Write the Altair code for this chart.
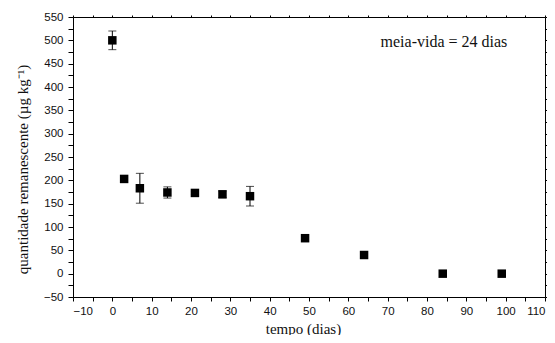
import altair as alt
import pandas as pd

# data
tempo = [0, 3, 7, 14, 21, 28, 35, 49, 64, 84, 99]
quantidade = [500, 203, 183, 174, 173, 170, 166, 76, 40, 0, 0]
erro = [20, 0, 32, 12, 4, 7, 21, 0, 0, 0, 0]

x_ticks = list(range(-10, 115, 5))
y_ticks = list(range(-50, 575, 25))

df = pd.DataFrame({"tempo": tempo, "q": quantidade, "err": erro})
df["lo"] = df["q"] - df["err"]
df["hi"] = df["q"] + df["err"]
df_err = df[df["err"] > 0]

ann = pd.DataFrame({"tempo": [84.3], "q": [496], "label": ["meia-vida = 24 dias"]})

xscale = alt.Scale(domain=[-10, 110], nice=False, zero=False)
yscale = alt.Scale(domain=[-50, 550], nice=False, zero=False)

label_font = "Liberation Sans"
title_font = "Liberation Serif"

x_axis = alt.Axis(
    values=x_ticks,
    labelExpr="datum.value % 10 == 0 ? datum.label : ''",
    title="tempo (dias)",
    grid=False,
    tickSize=4,
    labelFont=label_font,
    labelFontSize=11.5,
    labelColor="#111",
    labelPadding=4,
    titleFont=title_font,
    titleFontSize=15,
    titleFontWeight="normal",
    titleColor="#111",
    titleX=230,
    titleY=31,
    titleBaseline="middle",
    domainColor="black",
    tickColor="black",
)
y_axis = alt.Axis(
    values=y_ticks,
    labelExpr="datum.value % 50 == 0 ? datum.label : ''",
    title="quantidade remanescente (µg kg⁻¹)",
    grid=False,
    tickSize=5,
    labelFont=label_font,
    labelFontSize=11.5,
    labelColor="#111",
    labelPadding=5,
    titleFont=title_font,
    titleFontSize=15,
    titleFontWeight="normal",
    titleColor="#111",
    titleX=-51,
    titleY=152,
    titleBaseline="middle",
    titleAlign="center",
    domainColor="black",
    tickColor="black",
)
x_axis_top = alt.Axis(
    orient="top", values=x_ticks, labels=False, title=None, grid=False,
    tickSize=2, domainColor="black", tickColor="black",
)
y_axis_right = alt.Axis(
    orient="right", values=y_ticks, labels=False, title=None, grid=False,
    tickSize=2, domainColor="black", tickColor="black",
)

base_err = alt.Chart(df_err)

rules = base_err.mark_rule(color="black", strokeWidth=1).encode(
    x=alt.X("tempo:Q", scale=xscale, axis=x_axis),
    y=alt.Y("lo:Q", scale=yscale, axis=y_axis),
    y2="hi:Q",
)
caps_lo = base_err.mark_tick(color="black", orient="horizontal", size=8, thickness=1).encode(
    x=alt.X("tempo:Q", scale=xscale, axis=x_axis_top),
    y=alt.Y("lo:Q", scale=yscale, axis=y_axis_right),
)
caps_hi = base_err.mark_tick(color="black", orient="horizontal", size=8, thickness=1).encode(
    x=alt.X("tempo:Q", scale=xscale, axis=None),
    y=alt.Y("hi:Q", scale=yscale, axis=None),
)
points = alt.Chart(df).mark_square(size=72, color="black", opacity=1, filled=True).encode(
    x=alt.X("tempo:Q", scale=xscale, axis=None),
    y=alt.Y("q:Q", scale=yscale, axis=None),
)
text = alt.Chart(ann).mark_text(
    font=title_font, fontSize=16, color="#111", align="center", baseline="middle"
).encode(
    x=alt.X("tempo:Q", scale=xscale, axis=None),
    y=alt.Y("q:Q", scale=yscale, axis=None),
    text="label:N",
)

chart = (
    alt.layer(rules, caps_lo, caps_hi, points, text)
    .resolve_axis(x="independent", y="independent")
    .properties(
        width=472,
        height=280,
        autosize=alt.AutoSizeParams(type="none"),
        padding={"left": 65, "top": 9, "right": 2, "bottom": 38},
    )
    .configure_view(stroke="black", strokeWidth=1)
    .configure(background="white")
)

chart.save("out.html", embed_options={"renderer": "svg", "actions": False})
